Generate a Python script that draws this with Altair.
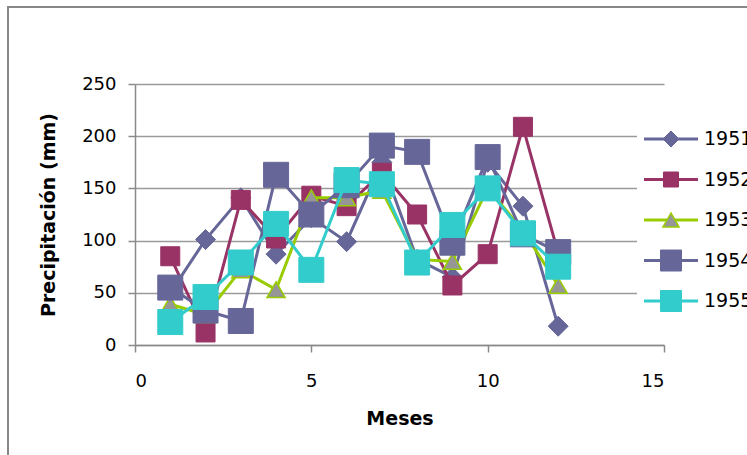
import altair as alt
import pandas as pd

# Monthly precipitation (mm), 1951-1955
meses = list(range(1, 13))
anios = ["1951", "1952", "1953", "1954", "1955"]
p1951 = [50, 101, 141, 87, 122, 99, 175, 82, 65, 175, 133, 18]
p1952 = [85, 12, 139, 102, 143, 133, 165, 125, 57, 87, 209, 88]
p1953 = [39, 29, 72, 53, 141, 141, 148, 82, 80, 150, 110, 57]
p1954 = [55, 33, 23, 163, 125, 153, 191, 185, 98, 180, 106, 89]
p1955 = [22, 46, 79, 116, 72, 158, 154, 79, 115, 150, 107, 75]
valores = [p1951, p1952, p1953, p1954, p1955]

# marker style per series: line colour, shape, size, fill, stroke, legend size
estilos = {
    "1951": dict(line="#666699", shape="diamond", size=400, fill="#666699", stroke="#666699", lsize=256),
    "1952": dict(line="#993366", shape="square", size=361, fill="#993366", stroke="#993366", lsize=225),
    "1953": dict(line="#99CC00", shape="triangle-up", size=330, fill="#969696", stroke="#99CC00", lsize=256),
    "1954": dict(line="#666699", shape="square", size=625, fill="#666699", stroke="#666699", lsize=441),
    "1955": dict(line="#33CCCC", shape="square", size=625, fill="#33CCCC", stroke="#33CCCC", lsize=441),
}

FONT = "DejaVu Sans"
FS = 18
GRIS = "#8a8a8a"

x_scale = alt.Scale(domain=[0, 15], nice=False, zero=False)
y_scale = alt.Scale(domain=[0, 250], nice=False)
x_axis = alt.Axis(
    values=[0, 5, 10, 15], grid=False, title="Meses", format="d",
    domainColor=GRIS, domainWidth=1.5, tickColor=GRIS, tickWidth=1.5, tickSize=7,
    labelFont=FONT, labelFontSize=FS, labelColor="#000000", labelPadding=20,
    titleFont=FONT, titleFontSize=19, titleFontWeight="bold", titleColor="#000000",
    titleX=264.5, titleY=73, titleBaseline="middle", titleAlign="center",
)
y_axis = alt.Axis(
    values=[0, 50, 100, 150, 200, 250], grid=True, gridColor="#9a9a9a", gridWidth=1.5,
    title="Precipitación (mm)", format="d",
    domainColor=GRIS, domainWidth=1.5, tickColor=GRIS, tickWidth=1.5, tickSize=7,
    labelFont=FONT, labelFontSize=FS, labelColor="#000000", labelPadding=12,
    titleFont=FONT, titleFontSize=19, titleFontWeight="bold", titleColor="#000000",
    titleX=-87, titleY=130.5, titleBaseline="middle", titleAlign="center", titleAngle=270,
)

capas = []
for anio, serie in zip(anios, valores):
    e = estilos[anio]
    df = pd.DataFrame({"Mes": meses, "Precipitación": serie, "Año": anio})
    base = alt.Chart(df).encode(
        x=alt.X("Mes:Q", scale=x_scale, axis=x_axis),
        y=alt.Y("Precipitación:Q", scale=y_scale, axis=y_axis),
    )
    capas.append(base.mark_line(color=e["line"], strokeWidth=3))
    capas.append(base.mark_point(
        shape=e["shape"], size=e["size"], filled=True, fill=e["fill"],
        stroke=e["stroke"], strokeWidth=1.5 if anio == "1953" else 1, opacity=1,
    ))
principal = alt.layer(*capas)

# legend block at the right, drawn over the grid
leyenda_df = pd.DataFrame({"Año": anios})
y_ley = alt.Y("Año:N", scale=alt.Scale(type="point", domain=anios, range=[55, 217], padding=0), axis=None)
fondo = alt.Chart(leyenda_df).mark_rect(color="white").encode(
    x=alt.value(502), x2=alt.value(640), y=alt.value(32), y2=alt.value(240)
)
capas_ley = [fondo]
for anio in anios:
    e = estilos[anio]
    d = alt.Chart(pd.DataFrame({"Año": [anio]}))
    capas_ley.append(d.mark_rule(color=e["line"], strokeWidth=3).encode(
        x=alt.value(509), x2=alt.value(563), y=y_ley))
    capas_ley.append(d.mark_point(
        shape=e["shape"], size=e["lsize"], filled=True, fill=e["fill"],
        stroke=e["stroke"], strokeWidth=1.5 if anio == "1953" else 1, opacity=1,
    ).encode(x=alt.value(536), y=y_ley))
    capas_ley.append(d.mark_text(
        align="left", baseline="middle", font=FONT, fontSize=FS + 1, color="#000000"
    ).encode(x=alt.value(569), y=y_ley, text="Año:N"))
leyenda = alt.layer(*capas_ley)

# outer chart frame
marco = alt.Chart(leyenda_df).mark_rect(
    fillOpacity=0, stroke="#878787", strokeWidth=2
).encode(x=alt.value(-127), x2=alt.value(700), y=alt.value(-77), y2=alt.value(400))

chart = alt.layer(principal, leyenda, marco).resolve_scale(y="independent").properties(
    width=529, height=261,
    padding={"left": 135, "top": 84, "right": 83, "bottom": 110},
    autosize="none",
).configure_view(stroke=None)

chart.save("out.html", embed_options={"renderer": "svg", "actions": False})
